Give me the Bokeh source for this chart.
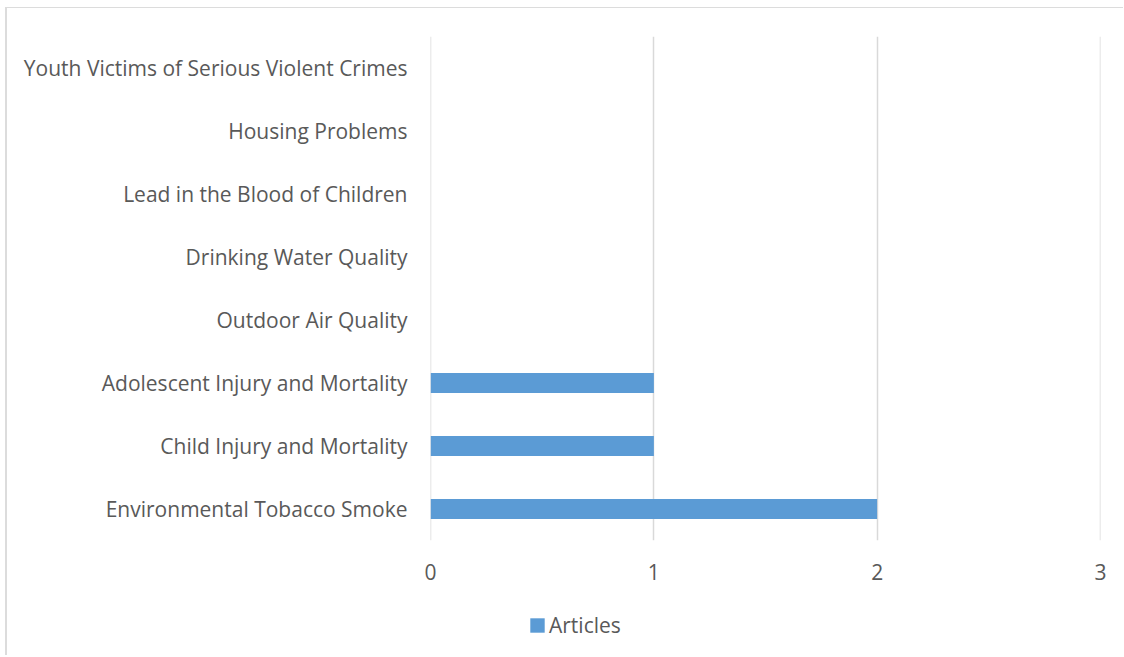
from bokeh.plotting import figure
from bokeh.layouts import column
from bokeh.models import Range1d, FactorRange, FixedTicker, Legend, LegendItem
from bokeh.embed import file_html
from bokeh.resources import INLINE

categories = [
    "Environmental Tobacco Smoke",
    "Child Injury and Mortality",
    "Adolescent Injury and Mortality",
    "Outdoor Air Quality",
    "Drinking Water Quality",
    "Lead in the Blood of Children",
    "Housing Problems",
    "Youth Victims of Serious Violent Crimes",
]
articles = [2, 1, 1, 0, 0, 0, 0, 0]
x_ticks = [0, 1, 2, 3]
series_name = "Articles"

FONT = "Open Sans"
TEXT = "#595959"
GRID = "#d9d9d9"
BAR = "#5b9bd5"
EPS = 0.0005

p = figure(
    width=1116, height=594,
    y_range=FactorRange(factors=categories, range_padding=0),
    x_range=Range1d(x_ticks[0] - EPS, x_ticks[-1] + EPS),
    output_backend="svg", toolbar_location=None,
    min_border_left=423, min_border_right=23,
    min_border_top=28, min_border_bottom=62,
)

p.hbar(y=categories, left=0, right=articles, height=0.32,
       fill_color=BAR, line_color=None)

p.outline_line_color = None
p.ygrid.grid_line_color = None
p.xgrid.grid_line_color = GRID
p.xgrid.grid_line_width = 1.5
p.xaxis.ticker = FixedTicker(ticks=x_ticks)

for ax in (p.xaxis, p.yaxis):
    ax.axis_line_color = None
    ax.major_tick_line_color = None
    ax.minor_tick_line_color = None
    ax.major_label_text_font = FONT
    ax.major_label_text_font_size = "21px"
    ax.major_label_text_color = TEXT
p.xaxis.major_label_standoff = 17
p.yaxis.major_label_standoff = 17

# legend strip below the chart (its frame is aligned with the chart's frame)
q = figure(
    width=1116, height=53,
    x_range=Range1d(0, 1), y_range=Range1d(0, 1),
    x_axis_type=None, y_axis_type=None,
    output_backend="svg", toolbar_location=None,
    min_border_left=423, min_border_right=23,
    min_border_top=0, min_border_bottom=0,
)
q.outline_line_color = None
# legend proxy: one bar placed outside the visible range of this strip
rl = q.hbar(y=[-1], left=[0], right=[1], height=0.32, fill_color=BAR, line_color=None)

lg = Legend(items=[LegendItem(label=series_name, renderers=[rl])], location=(98, 16))
lg.padding = 0
lg.margin = 0
lg.border_line_color = None
lg.background_fill_alpha = 0
lg.glyph_width = 18
lg.glyph_height = 18
lg.label_standoff = 3
lg.label_text_font = FONT
lg.label_text_font_size = "21px"
lg.label_text_color = TEXT
q.add_layout(lg, "center")

layout = column(p, q, spacing=0)
layout.styles = {
    "margin-left": "5px",
    "margin-top": "7px",
    "border-left": "2px solid #dcdcdc",
    "border-top": "1px solid #dcdcdc",
}

open("out.html", "w").write(file_html(layout, INLINE))
